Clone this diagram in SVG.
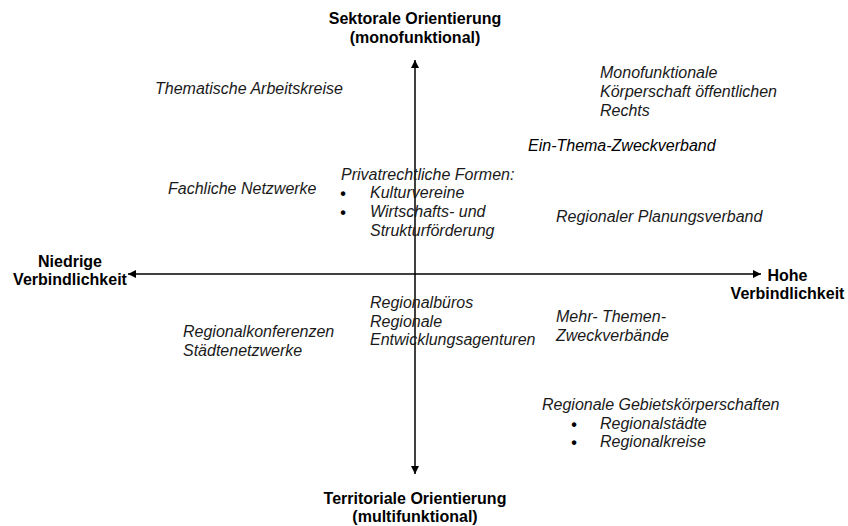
<svg xmlns="http://www.w3.org/2000/svg" width="848" height="526" viewBox="0 0 848 526">
<style>
  text { font-family: "Liberation Sans", Arial, sans-serif; font-size: 16px; fill: #1a1a1a; }
  .axis { font-weight: bold; text-anchor: middle; fill: #000; }
  .it { font-style: italic; }
  .dark { fill: #000; }
  .bul { font-size: 16px; font-weight: bold; text-anchor: middle; fill: #000; }
  .ax { stroke: #000; stroke-width: 1.5; fill: none; }
</style>
<defs>
  <marker id="arr" viewBox="0 0 10 10" refX="10" refY="5" markerWidth="10" markerHeight="8" markerUnits="userSpaceOnUse" orient="auto-start-reverse">
    <path d="M0,0 L10,5 L0,10 Z" fill="#000"/>
  </marker>
</defs>
<rect width="848" height="526" fill="#fff"/>

<g id="connectors">
  <line class="ax" x1="415" y1="60" x2="415" y2="474" marker-start="url(#arr)" marker-end="url(#arr)"/>
  <line class="ax" x1="128" y1="274" x2="761" y2="274" marker-start="url(#arr)" marker-end="url(#arr)"/>
</g>

<g id="axis-top">
  <text class="axis" x="415" y="24">Sektorale Orientierung</text>
  <text class="axis" x="415" y="42.5">(monofunktional)</text>
</g>
<g id="axis-bottom">
  <text class="axis" x="415" y="503.5">Territoriale Orientierung</text>
  <text class="axis" x="415" y="521.5">(multifunktional)</text>
</g>
<g id="axis-left">
  <text class="axis" x="70" y="266.5">Niedrige</text>
  <text class="axis" x="70" y="284.5">Verbindlichkeit</text>
</g>
<g id="axis-right">
  <text class="axis" x="787.5" y="281">Hohe</text>
  <text class="axis" x="787.5" y="298.5">Verbindlichkeit</text>
</g>

<g id="thematische-arbeitskreise">
  <text class="it" x="155" y="94">Thematische Arbeitskreise</text>
</g>
<g id="monofunktionale-koerperschaft">
  <text class="it" x="600" y="78">Monofunktionale</text>
  <text class="it" x="600" y="97">Körperschaft öffentlichen</text>
  <text class="it" x="600" y="115.5">Rechts</text>
</g>
<g id="ein-thema-zweckverband">
  <text class="it dark" x="528" y="151">Ein-Thema-Zweckverband</text>
</g>
<g id="fachliche-netzwerke">
  <text class="it" x="168" y="194">Fachliche Netzwerke</text>
</g>
<g id="privatrechtliche-formen">
  <text class="it" x="341" y="179.5">Privatrechtliche Formen:</text>
  <text class="bul" x="343" y="199">•</text>
  <text class="it" x="370" y="198">Kulturvereine</text>
  <text class="bul" x="343" y="218">•</text>
  <text class="it" x="370" y="217">Wirtschafts- und</text>
  <text class="it" x="370" y="236">Strukturförderung</text>
</g>
<g id="regionaler-planungsverband">
  <text class="it" x="556" y="222">Regionaler Planungsverband</text>
</g>
<g id="regionalbueros">
  <text class="it" x="370" y="308">Regionalbüros</text>
  <text class="it" x="370" y="326.5">Regionale</text>
  <text class="it" x="370" y="345">Entwicklungsagenturen</text>
</g>
<g id="regionalkonferenzen">
  <text class="it" x="183" y="337">Regionalkonferenzen</text>
  <text class="it" x="183" y="355.5">Städtenetzwerke</text>
</g>
<g id="mehr-themen-zweckverbaende">
  <text class="it" x="556" y="322">Mehr- Themen-</text>
  <text class="it" x="556" y="340.5">Zweckverbände</text>
</g>
<g id="regionale-gebietskoerperschaften">
  <text class="it" x="542" y="410">Regionale Gebietskörperschaften</text>
  <text class="bul" x="574" y="430">•</text>
  <text class="it" x="600" y="429">Regionalstädte</text>
  <text class="bul" x="574" y="448">•</text>
  <text class="it" x="600" y="447">Regionalkreise</text>
</g>
</svg>
